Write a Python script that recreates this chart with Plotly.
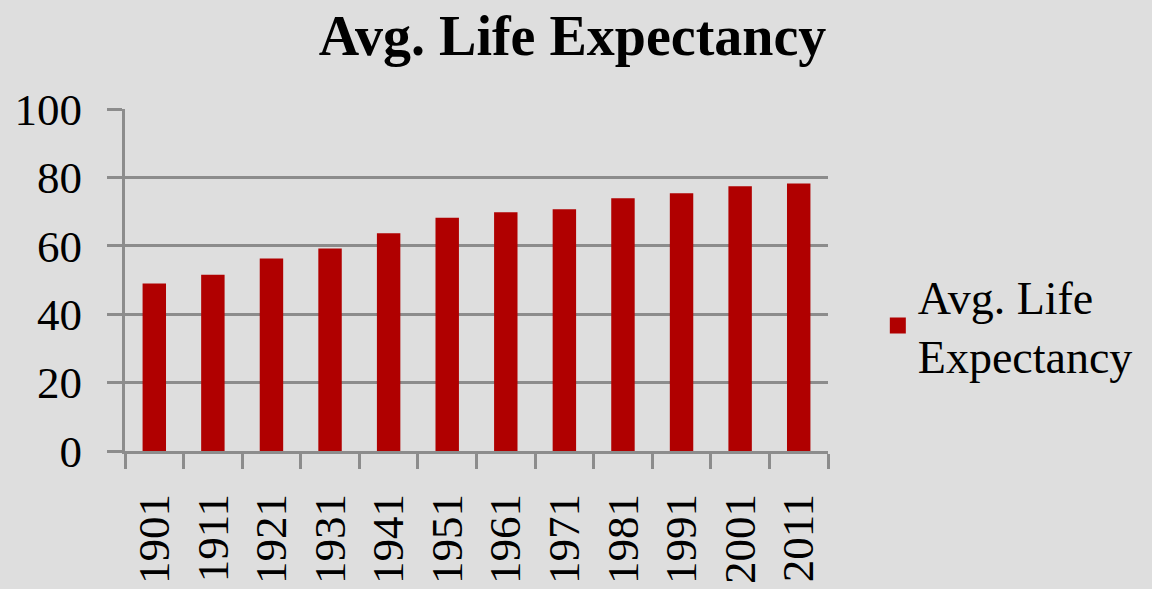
import plotly.graph_objects as go

years = ["1901", "1911", "1921", "1931", "1941", "1951", "1961", "1971", "1981", "1991", "2001", "2011"]
life_expectancy = [49.0, 51.5, 56.3, 59.2, 63.7, 68.2, 69.8, 70.7, 73.9, 75.4, 77.4, 78.2]
series_name = "Avg. Life<br>Expectancy"
y_ticks = [0, 20, 40, 60, 80, 100]

FONT = "Liberation Serif"
GRID = "#8c8c8c"
BAR = "#b00000"

fig = go.Figure()
fig.add_trace(go.Bar(
    x=years, y=life_expectancy, name=series_name,
    marker=dict(color=BAR, line=dict(width=0)),
    showlegend=False,
))
# legend swatch (larger square like the reference)
fig.add_trace(go.Scatter(
    x=[None], y=[None], mode="markers", name=series_name,
    marker=dict(symbol="square", size=22, color=BAR),
    showlegend=True, hoverinfo="skip",
))

fig.update_layout(
    width=1152, height=589,
    paper_bgcolor="#dedede", plot_bgcolor="#dedede",
    margin=dict(l=125, r=324, t=109, b=138, autoexpand=False),
    bargap=0.6,
    title=dict(text="<b>Avg. Life Expectancy</b>", x=0.497, xanchor="center",
               y=0.94, yanchor="middle",
               font=dict(family=FONT, size=56, color="black")),
    font=dict(family=FONT, color="black"),
    legend=dict(xref="container", yref="container", x=0.762, y=0.447,
                xanchor="left", yanchor="middle",
                font=dict(family=FONT, size=46, color="black"),
                bgcolor="rgba(0,0,0,0)", itemwidth=30),
    xaxis=dict(
        type="category", tickangle=-90, tickson="boundaries",
        ticks="outside", ticklen=15, tickwidth=3, tickcolor=GRID,
        showline=True, linecolor=GRID, linewidth=3,
        showgrid=False, ticklabelstandoff=22, automargin=False,
        tickfont=dict(family=FONT, size=45, color="black"),
    ),
    yaxis=dict(
        range=[0, 100], tickvals=y_ticks,
        ticks="outside", ticklen=15, tickwidth=3, tickcolor=GRID,
        showline=True, linecolor=GRID, linewidth=3,
        showgrid=True, gridcolor=GRID, gridwidth=3,
        zeroline=False, ticklabelstandoff=16, automargin=False,
        tickfont=dict(family=FONT, size=45, color="black"),
    ),
)

fig.write_html("out.html", config={"displayModeBar": False},
               post_script="document.body.style.margin='0';document.body.style.background='#dedede';")
